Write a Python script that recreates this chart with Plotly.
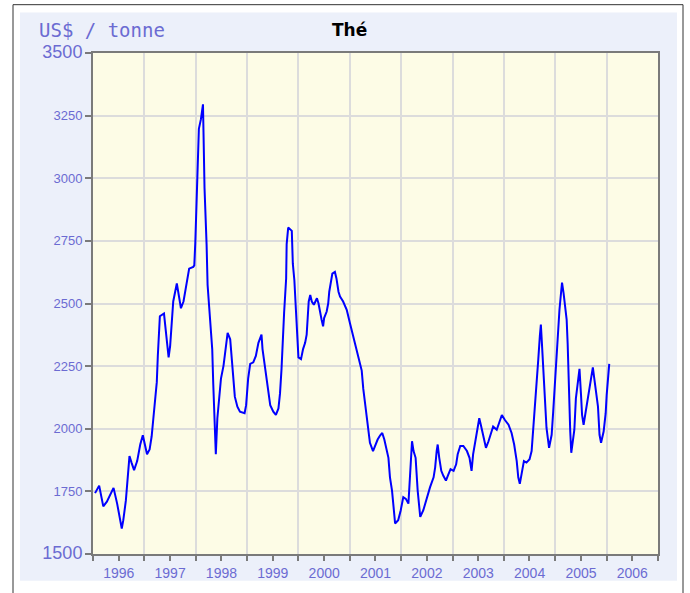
import plotly.graph_objects as go
import pandas as pd

# decimal years and prices (US$ / tonne)
years = [
    1996.04, 1996.12, 1996.20, 1996.27, 1996.40, 1996.47, 1996.56, 1996.59, 1996.64, 1996.67,
    1996.71, 1996.75, 1996.80, 1996.86, 1996.92, 1996.97, 1997.05, 1997.10, 1997.14, 1997.17,
    1997.21, 1997.24, 1997.26, 1997.29, 1997.30, 1997.38, 1997.43, 1997.47, 1997.50, 1997.53,
    1997.56, 1997.63, 1997.66, 1997.71, 1997.76, 1997.82, 1997.87, 1997.95, 1997.97, 1997.99,
    1998.02, 1998.04, 1998.06, 1998.10, 1998.14, 1998.15, 1998.17, 1998.21, 1998.23, 1998.26,
    1998.29, 1998.32, 1998.34, 1998.36, 1998.39, 1998.42, 1998.46, 1998.49, 1998.54, 1998.57,
    1998.62, 1998.67, 1998.70, 1998.73, 1998.76, 1998.81, 1998.86, 1998.95, 1998.98, 1999.02,
    1999.06, 1999.12, 1999.17, 1999.22, 1999.28, 1999.30, 1999.35, 1999.39, 1999.45, 1999.51,
    1999.56, 1999.61, 1999.64, 1999.67, 1999.69, 1999.72, 1999.76, 1999.77, 1999.80, 1999.87,
    1999.89, 1999.92, 1999.95, 1999.98, 2000.00, 2000.05, 2000.09, 2000.13, 2000.16, 2000.18,
    2000.20, 2000.23, 2000.26, 2000.30, 2000.36, 2000.39, 2000.42, 2000.45, 2000.48, 2000.50,
    2000.55, 2000.58, 2000.60, 2000.63, 2000.66, 2000.71, 2000.74, 2000.78, 2000.81, 2000.87,
    2000.94, 2001.00, 2001.07, 2001.13, 2001.20, 2001.23, 2001.26, 2001.30, 2001.33, 2001.36,
    2001.39, 2001.45, 2001.49, 2001.54, 2001.59, 2001.63, 2001.67, 2001.70, 2001.75, 2001.78,
    2001.82, 2001.85, 2001.88, 2001.94, 2001.99, 2002.04, 2002.09, 2002.14, 2002.17, 2002.21,
    2002.24, 2002.28, 2002.32, 2002.37, 2002.43, 2002.50, 2002.56, 2002.63, 2002.66, 2002.69,
    2002.71, 2002.74, 2002.78, 2002.82, 2002.87, 2002.92, 2002.96, 2003.02, 2003.07, 2003.10,
    2003.15, 2003.21, 2003.28, 2003.33, 2003.37, 2003.40, 2003.44, 2003.47, 2003.52, 2003.55,
    2003.60, 2003.65, 2003.70, 2003.74, 2003.79, 2003.86, 2003.92, 2003.96, 2004.02, 2004.09,
    2004.15, 2004.20, 2004.25, 2004.28, 2004.31, 2004.35, 2004.39, 2004.44, 2004.50, 2004.54,
    2004.57, 2004.61, 2004.64, 2004.67, 2004.70, 2004.72, 2004.74, 2004.77, 2004.80, 2004.83,
    2004.88, 2004.93, 2004.96, 2005.00, 2005.03, 2005.06, 2005.08, 2005.11, 2005.13, 2005.16,
    2005.19, 2005.22, 2005.24, 2005.26, 2005.29, 2005.31, 2005.34, 2005.37, 2005.40, 2005.45,
    2005.47, 2005.50, 2005.52, 2005.55, 2005.58, 2005.61, 2005.66, 2005.71, 2005.73, 2005.75,
    2005.79, 2005.83, 2005.86, 2005.89, 2005.94, 2005.98, 2006.00, 2006.03, 2006.05,
]
prices = [
    1743, 1773, 1690, 1709, 1764, 1701, 1602, 1635, 1714, 1784,
    1891, 1865, 1835, 1871, 1937, 1974, 1898, 1917, 1970, 2035,
    2107, 2186, 2291, 2396, 2449, 2460, 2370, 2285, 2331, 2416,
    2508, 2580, 2541, 2481, 2508, 2574, 2639, 2646, 2652, 2744,
    2915, 3085, 3197, 3236, 3295, 3184, 2961, 2737, 2574, 2488,
    2383, 2318, 2180, 2062, 1898, 2042, 2134, 2200, 2252, 2304,
    2383, 2357, 2278, 2200, 2128, 2088, 2068, 2062, 2094, 2200,
    2259, 2265, 2291, 2343, 2376, 2318, 2239, 2173, 2094, 2068,
    2055, 2081, 2140, 2239, 2343, 2462, 2600, 2737, 2803, 2790,
    2659, 2593, 2475, 2350, 2285, 2278, 2318, 2343, 2376, 2442,
    2508, 2534, 2508, 2495, 2521, 2501, 2462, 2436, 2409, 2442,
    2468, 2501, 2547, 2593, 2619, 2626, 2600, 2547, 2528, 2508,
    2475, 2422, 2363, 2318, 2265, 2232, 2160, 2094, 2042, 1989,
    1944, 1911, 1931, 1957, 1974, 1983, 1957, 1924, 1884, 1806,
    1753, 1688, 1622, 1635, 1675, 1727, 1720, 1701, 1826, 1950,
    1911, 1884, 1753, 1648, 1675, 1727, 1766, 1806, 1845, 1911,
    1937, 1884, 1832, 1812, 1793, 1819, 1839, 1832, 1858, 1898,
    1931, 1931, 1911, 1884, 1832, 1898, 1950, 1996, 2042, 2016,
    1963, 1924, 1950, 1976, 2009, 1996, 2029, 2055, 2035, 2016,
    1983, 1937, 1871, 1806, 1780, 1832, 1871, 1865, 1878, 1911,
    1989, 2107, 2200, 2278, 2370, 2416, 2343, 2213, 2081, 2003,
    1924, 1976, 2068, 2213, 2311, 2409, 2475, 2541, 2583, 2541,
    2488, 2436, 2337, 2160, 1989, 1904, 1963, 1996, 2121, 2200,
    2239, 2134, 2055, 2016, 2055, 2107, 2160, 2226, 2245, 2213,
    2147, 2088, 1976, 1944, 1989, 2062, 2134, 2206, 2259,
]

y_ticks = [1500, 1750, 2000, 2250, 2500, 2750, 3000, 3250, 3500]
title_text = "Thé"
unit_text = "US$ / tonne"

# convert decimal years to dates
dates = [pd.Timestamp(int(y), 1, 1) + pd.Timedelta(days=(y - int(y)) * 365.25) for y in years]

W, H = 690, 593
L, R, T, B = 93, 658, 53, 561


def px(x):
    return (x - L) / (R - L)


def py(y):
    return (B - y) / (B - T)


label_color = "#6B6BD2"
y_ticktext = []
for v in y_ticks:
    if v in (y_ticks[0], y_ticks[-1]):
        y_ticktext.append(f'<span style="font-size:18px">{v}</span>')
    else:
        y_ticktext.append(str(v))

fig = go.Figure()
fig.add_trace(go.Scatter(
    x=dates, y=prices, mode="lines",
    line=dict(color="#0000FF", width=2),
    hoverinfo="x+y", showlegend=False,
))

fig.update_layout(
    width=W, height=H,
    margin=dict(l=L, r=W - R, t=T, b=H - B, pad=0),
    paper_bgcolor="white",
    plot_bgcolor="#FDFCE6",
    font=dict(family="Liberation Sans", color=label_color, size=13),
    xaxis=dict(
        type="date",
        range=["1996-01-01", "2007-01-01"],
        dtick="M12", tick0="1996-01-01",
        tickformat="%Y", ticklabelmode="period",
        showgrid=True, gridcolor="#DCDCDC", gridwidth=1.5,
        showline=True, linecolor="#7A7A7A", linewidth=2, mirror=True,
        ticks="outside", ticklen=5, tickcolor="#7A7A7A", tickwidth=1.5,
        minor=dict(dtick="M6", tick0="1996-01-01", ticks="outside", ticklen=5,
                   tickcolor="#7A7A7A", tickwidth=1.5, showgrid=False),
        tickfont=dict(family="Liberation Sans", size=14, color=label_color),
        zeroline=False,
    ),
    yaxis=dict(
        range=[1500, 3500],
        tickvals=y_ticks, ticktext=y_ticktext,
        showgrid=True, gridcolor="#DCDCDC", gridwidth=1.5,
        showline=True, linecolor="#7A7A7A", linewidth=2, mirror=True,
        ticks="outside", ticklen=6, tickcolor="#7A7A7A", tickwidth=1.5,
        tickfont=dict(family="Liberation Sans", size=13, color=label_color),
        zeroline=False,
    ),
    shapes=[
        dict(type="rect", xref="paper", yref="paper",
             x0=px(13), x1=px(683), y0=py(640), y1=py(4),
             line=dict(color="#333333", width=1), fillcolor="white", layer="below"),
        dict(type="rect", xref="paper", yref="paper",
             x0=px(20), x1=px(677), y0=py(588), y1=py(12),
             line=dict(width=0), fillcolor="#ECF0FA", layer="below"),
        dict(type="rect", xref="paper", yref="paper",
             x0=0, x1=1, y0=0, y1=1,
             line=dict(width=0), fillcolor="#FDFCE6", layer="below"),
    ],
    annotations=[
        dict(text=unit_text, xref="paper", yref="paper", x=px(37), y=py(30),
             xanchor="left", yanchor="middle", showarrow=False,
             font=dict(family="DejaVu Sans Mono", size=19, color=label_color)),
        dict(text="<b>" + title_text + "</b>", xref="paper", yref="paper", x=px(349), y=py(30),
             xanchor="center", yanchor="middle", showarrow=False,
             font=dict(family="DejaVu Sans", size=17, color="black")),
    ],
)

fig.write_html(
    "out.html",
    config={"displayModeBar": False},
    post_script="document.body.style.margin='0';document.body.style.overflow='hidden';",
)
